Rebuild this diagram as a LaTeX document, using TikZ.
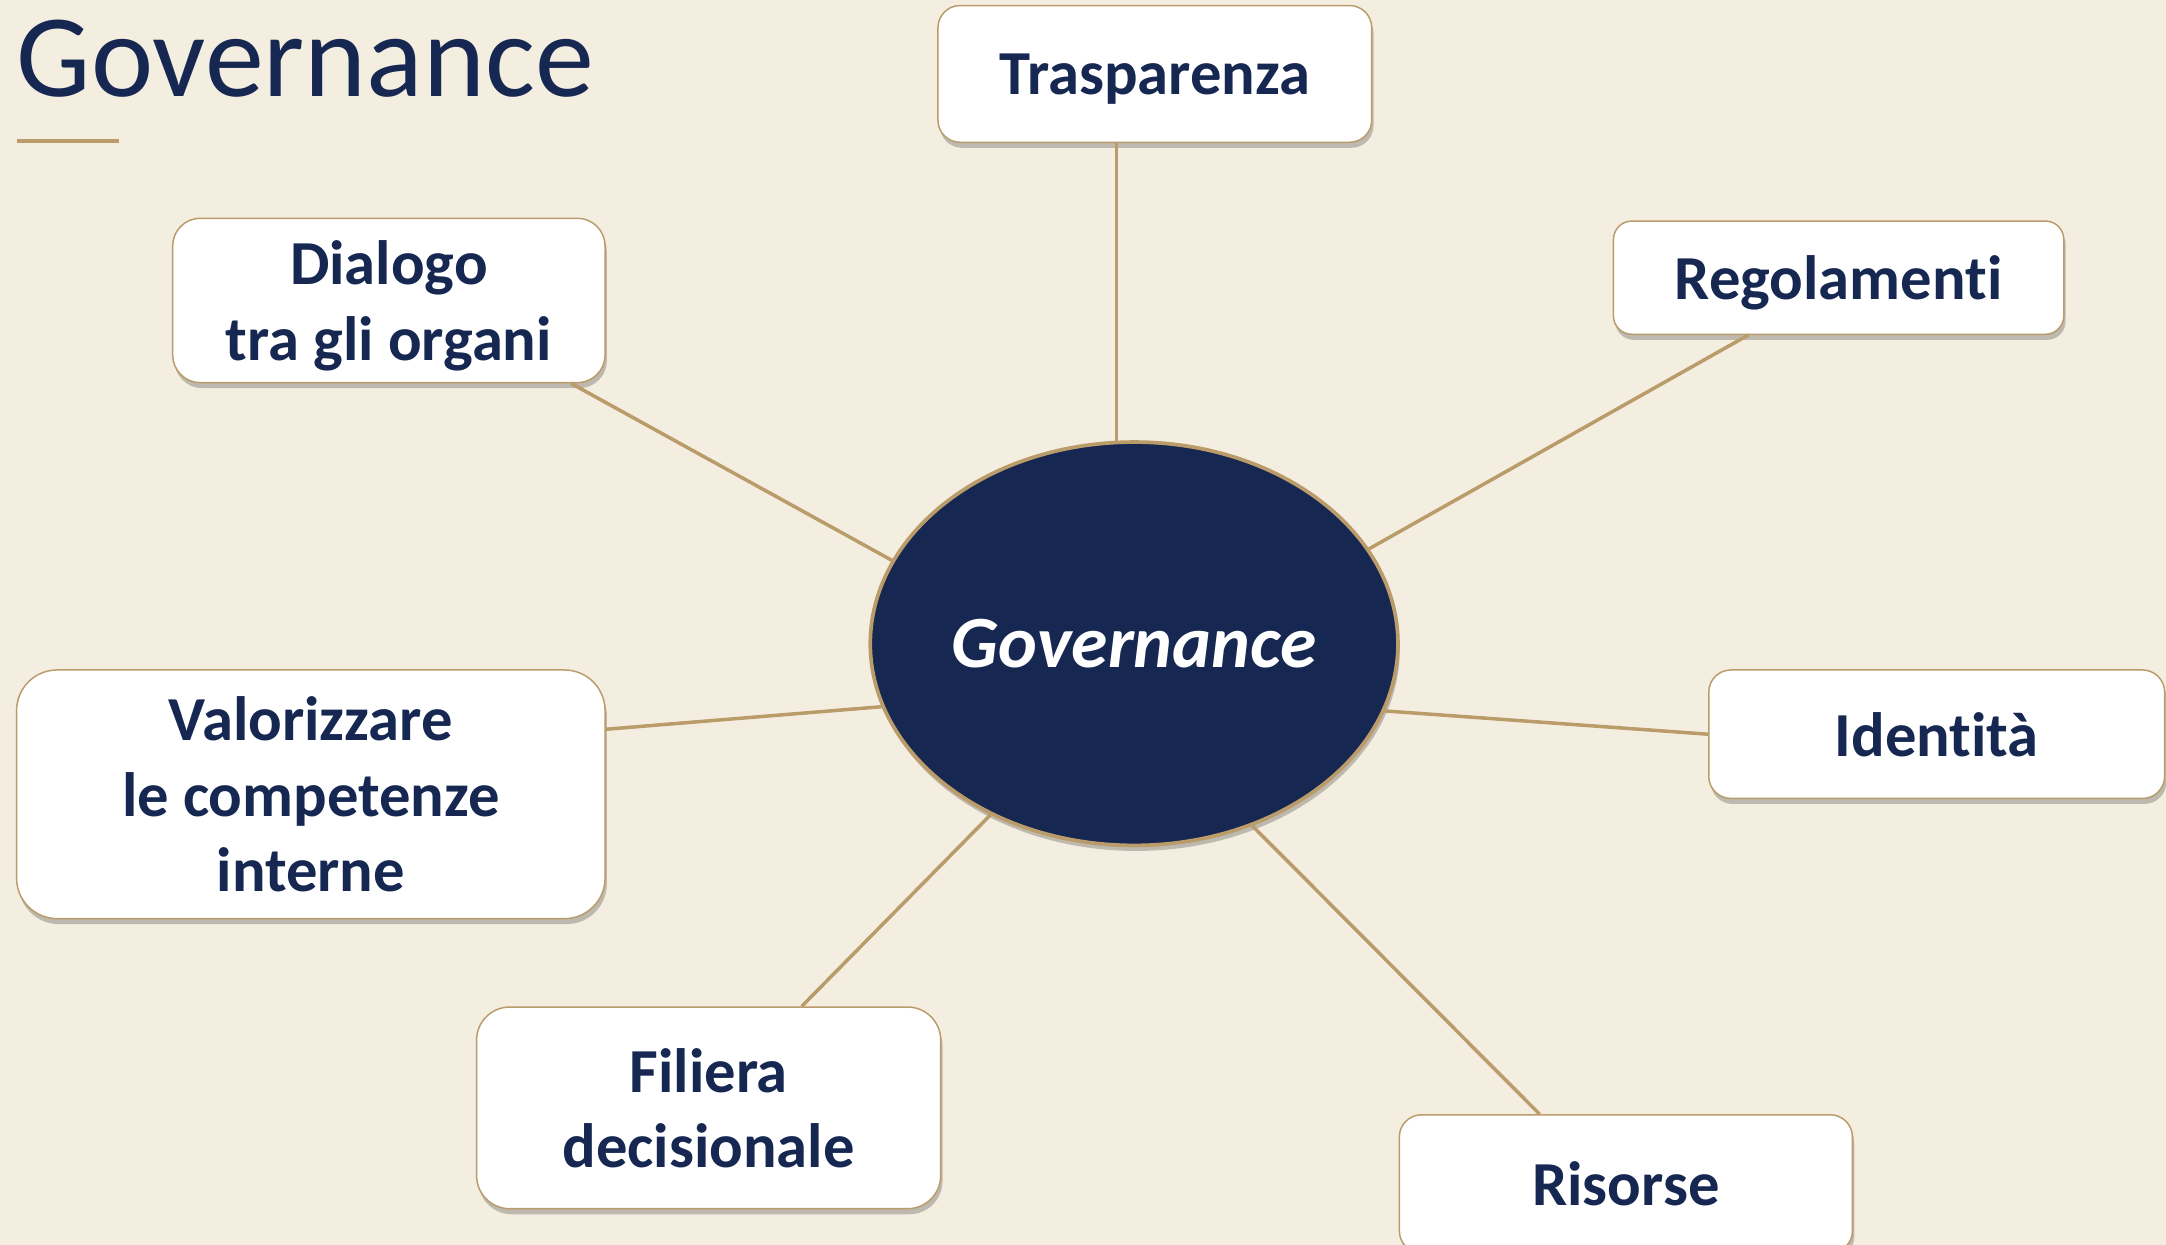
\documentclass[tikz,border=0pt]{standalone}
\usepackage{fontspec}
\setmainfont{Carlito}[Ligatures=NoCommon]
\usetikzlibrary{shapes.geometric,shadows,calc}
\definecolor{govnavy}{RGB}{22,39,82}
\definecolor{govgold}{RGB}{186,155,106}
\definecolor{govbg}{RGB}{244,238,225}

\begin{document}
\begin{tikzpicture}[x=0.75pt,y=0.75pt,yscale=-1,xscale=1,
	box/.style={draw=govgold,line width=0.8pt,fill=white,align=center,text=govnavy,inner sep=0pt,text depth=0pt,font=\fontsize{34}{41}\selectfont\bfseries,drop shadow={shadow xshift=1pt,shadow yshift=-3pt,opacity=0.22,fill=black}},
	link/.style={draw=govgold,line width=1.9pt}]
	\fill[govbg] (0,0) rectangle (1568,901);
	\useasboundingbox (0,0) rectangle (1568,901);
	\node [anchor=base west,inner sep=0pt,text=govnavy,font=\fontsize{64}{70}\selectfont] (title) at (12,70) {Governance};
	\draw [govgold,line width=2pt] (12,102) -- (86,102);
	\node [ellipse,draw=govgold,line width=2pt,fill=govnavy,minimum width=286.5pt,minimum height=219pt,inner sep=0pt,text=white,font=\fontsize{40}{48}\selectfont\bfseries\itshape,drop shadow={shadow xshift=1pt,shadow yshift=-3pt,opacity=0.22,fill=black}] (gov) at (821,466) {Governance};
	\node [box,rounded corners=12pt,minimum width=235.5pt,minimum height=74.25pt] (tras) at (836,53.5) {Trasparenza};
	\node [box,rounded corners=10pt,minimum width=244.5pt,minimum height=61.5pt] (reg) at (1331,201) {Regolamenti};
	\node [box,rounded corners=15pt,minimum width=234.75pt,minimum height=89.25pt] (dia) at (281.5,217.5) {Dialogo\\tra gli organi};
	\node [box,rounded corners=22pt,minimum width=319.5pt,minimum height=135pt] (val) at (225,575) {Valorizzare\\le competenze\\interne};
	\node [box,rounded corners=12pt,minimum width=247.5pt,minimum height=69.75pt] (ide) at (1402,531.5) {Identità};
	\node [box,rounded corners=18pt,minimum width=252pt,minimum height=109.5pt] (fil) at (513,802) {Filiera\\decisionale};
	\node [box,rounded corners=12pt,minimum width=246pt,minimum height=75pt] (ris) at (1177,857) {Risorse};
	\draw [link] (tras.south -| gov.95) -- (gov.95);
	\draw [link] ($(reg.south west)!0.3!(reg.south east)$) -- (gov.22);
	\draw [link] ($(dia.south west)!0.92!(dia.south east)$) -- (gov.161);
	\draw [link] ($(val.north east)!0.24!(val.south east)$) -- (gov.194);
	\draw [link] (ide.west) -- (gov.-15);
	\draw [link] ($(fil.north west)!0.7!(fil.north east)$) -- (gov.230);
	\draw [link] ($(ris.north west)!0.31!(ris.north east)$) -- (gov.303);
\end{tikzpicture}
\end{document}
